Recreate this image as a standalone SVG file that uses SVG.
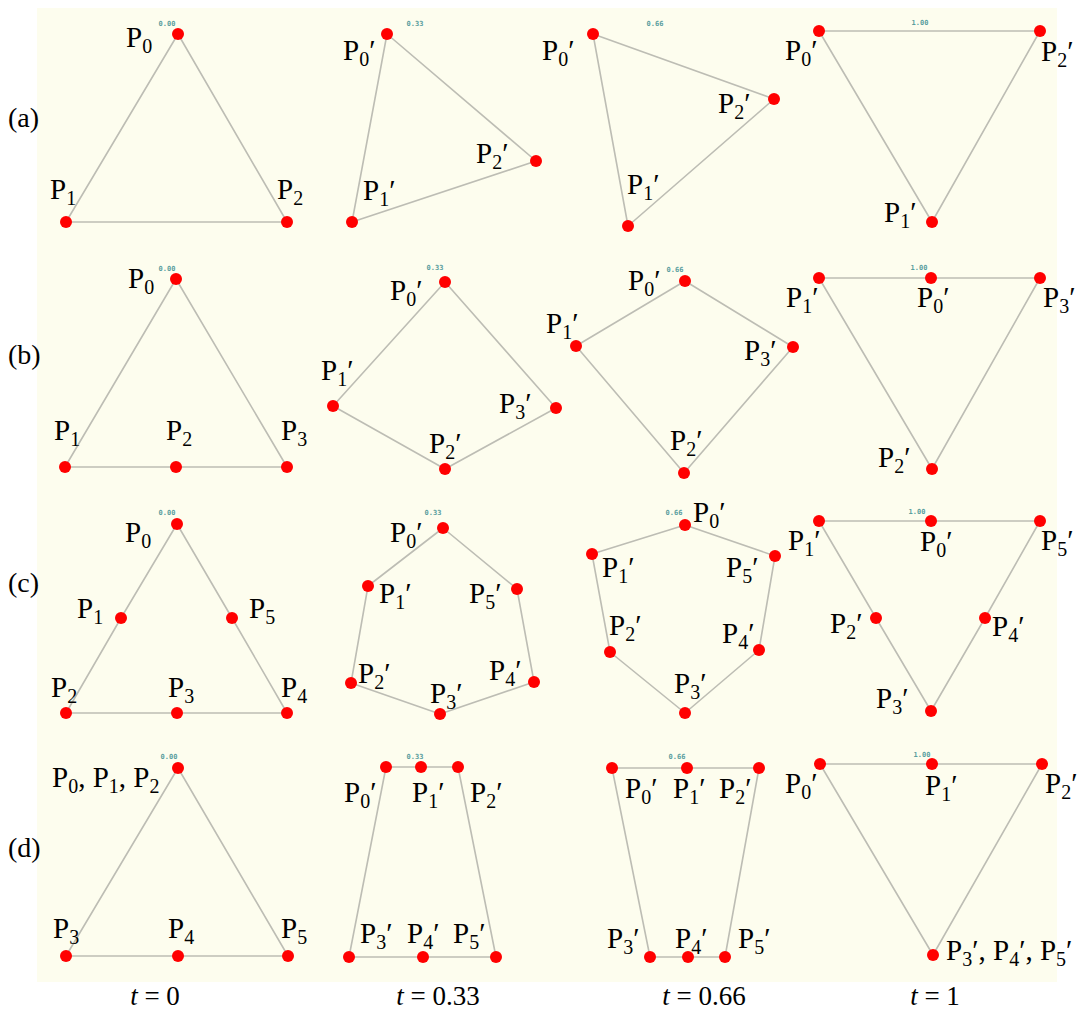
<svg xmlns="http://www.w3.org/2000/svg" width="1082" height="1012" viewBox="0 0 1082 1012">
<style>
.bg{fill:#FDFDEE}
.e{fill:none;stroke:#BDBDB4;stroke-width:1.6;stroke-linejoin:round}
.d{fill:#FF0000}
.p{font-family:'Liberation Serif','Times New Roman',serif;font-size:29px;fill:#000}
.s{font-size:20px}
.t{font-family:'DejaVu Sans Mono',monospace;font-size:7px;font-weight:bold;fill:#5A9E9E;text-anchor:middle}
.r{font-family:'Liberation Serif','Times New Roman',serif;font-size:28px;fill:#000}
.ax{font-family:'Liberation Serif','Times New Roman',serif;font-size:27px;fill:#000;text-anchor:middle}
</style>
<rect width="1082" height="1012" fill="#FFFFFF"/>
<rect class="bg" x="37" y="8" width="1020" height="974"/>

<g id="connectors">
<polygon class="e" points="178,34 66,222 287,222"/>
<polygon class="e" points="387,34 352,222 536,161"/>
<polygon class="e" points="593,34 628,226 774,99"/>
<polygon class="e" points="819,31 932,222 1040,31"/>

<polygon class="e" points="176,279 65,467 176,467 287,467"/>
<polygon class="e" points="445,282 333,406 445,469 556,408"/>
<polygon class="e" points="685,281 576,346 684,473 793,347"/>
<polygon class="e" points="931,278 819,278 932,469 1040,278"/>

<polygon class="e" points="177,524 121,618 66,713 177,713 287,713 232,618"/>
<polygon class="e" points="443,528 368,586 351,683 440,714 534,682 517,589"/>
<polygon class="e" points="685,525 592,554 610,652 685,713 759,650 775,556"/>
<polygon class="e" points="931,521 819,521 876,618 931,711 985,618 1040,521"/>

<polygon class="e" points="178,768 66,956 178,956 288,956"/>
<polygon class="e" points="386,767 421,767 458,767 496,957 423,957 349,957"/>
<polygon class="e" points="612,768 687,768 759,768 725,957 688,957 650,957"/>
<polygon class="e" points="820,764 932,764 1042,764 933,955"/>
</g>

<g id="row-labels">
<text class="r" x="8" y="127">(a)</text>
<text class="r" x="8" y="364">(b)</text>
<text class="r" x="8" y="592">(c)</text>
<text class="r" x="8" y="857">(d)</text>
</g>

<g id="time-labels">
<text class="ax" x="155" y="1005"><tspan font-style="italic">t</tspan> = 0</text>
<text class="ax" x="438" y="1005"><tspan font-style="italic">t</tspan> = 0.33</text>
<text class="ax" x="704" y="1005"><tspan font-style="italic">t</tspan> = 0.66</text>
<text class="ax" x="935" y="1005"><tspan font-style="italic">t</tspan> = 1</text>
</g>

<g id="counters">
<text class="t" x="167" y="26">0.00</text>
<text class="t" x="415" y="26">0.33</text>
<text class="t" x="655" y="26">0.66</text>
<text class="t" x="920" y="25">1.00</text>
<text class="t" x="167" y="271">0.00</text>
<text class="t" x="435" y="270">0.33</text>
<text class="t" x="675" y="272">0.66</text>
<text class="t" x="919" y="270">1.00</text>
<text class="t" x="167" y="515">0.00</text>
<text class="t" x="433" y="515">0.33</text>
<text class="t" x="674" y="515">0.66</text>
<text class="t" x="917" y="514">1.00</text>
<text class="t" x="169" y="759">0.00</text>
<text class="t" x="415" y="759">0.33</text>
<text class="t" x="677" y="759">0.66</text>
<text class="t" x="922" y="757">1.00</text>
</g>

<g id="a1-P0"><circle class="d" cx="178" cy="34" r="6"/><text class="p" x="126" y="47">P<tspan class="s" dy="6">0</tspan></text></g>
<g id="a1-P1"><circle class="d" cx="66" cy="222" r="6"/><text class="p" x="50" y="199">P<tspan class="s" dy="6">1</tspan></text></g>
<g id="a1-P2"><circle class="d" cx="287" cy="222" r="6"/><text class="p" x="277" y="199">P<tspan class="s" dy="6">2</tspan></text></g>

<g id="a2-P0"><circle class="d" cx="387" cy="34" r="6"/><text class="p" x="343" y="60">P<tspan class="s" dy="6">0</tspan><tspan dy="-6">′</tspan></text></g>
<g id="a2-P1"><circle class="d" cx="352" cy="222" r="6"/><text class="p" x="363" y="200">P<tspan class="s" dy="6">1</tspan><tspan dy="-6">′</tspan></text></g>
<g id="a2-P2"><circle class="d" cx="536" cy="161" r="6"/><text class="p" x="476" y="163">P<tspan class="s" dy="6">2</tspan><tspan dy="-6">′</tspan></text></g>

<g id="a3-P0"><circle class="d" cx="593" cy="34" r="6"/><text class="p" x="542" y="60">P<tspan class="s" dy="6">0</tspan><tspan dy="-6">′</tspan></text></g>
<g id="a3-P1"><circle class="d" cx="628" cy="226" r="6"/><text class="p" x="627" y="194">P<tspan class="s" dy="6">1</tspan><tspan dy="-6">′</tspan></text></g>
<g id="a3-P2"><circle class="d" cx="774" cy="99" r="6"/><text class="p" x="718" y="113">P<tspan class="s" dy="6">2</tspan><tspan dy="-6">′</tspan></text></g>

<g id="a4-P0"><circle class="d" cx="819" cy="31" r="6"/><text class="p" x="785" y="60">P<tspan class="s" dy="6">0</tspan><tspan dy="-6">′</tspan></text></g>
<g id="a4-P1"><circle class="d" cx="932" cy="222" r="6"/><text class="p" x="884" y="222">P<tspan class="s" dy="6">1</tspan><tspan dy="-6">′</tspan></text></g>
<g id="a4-P2"><circle class="d" cx="1040" cy="31" r="6"/><text class="p" x="1041" y="61">P<tspan class="s" dy="6">2</tspan><tspan dy="-6">′</tspan></text></g>

<g id="b1-P0"><circle class="d" cx="176" cy="279" r="6"/><text class="p" x="128" y="288">P<tspan class="s" dy="6">0</tspan></text></g>
<g id="b1-P1"><circle class="d" cx="65" cy="467" r="6"/><text class="p" x="54" y="440">P<tspan class="s" dy="6">1</tspan></text></g>
<g id="b1-P2"><circle class="d" cx="176" cy="467" r="6"/><text class="p" x="166" y="440">P<tspan class="s" dy="6">2</tspan></text></g>
<g id="b1-P3"><circle class="d" cx="287" cy="467" r="6"/><text class="p" x="281" y="440">P<tspan class="s" dy="6">3</tspan></text></g>

<g id="b2-P0"><circle class="d" cx="445" cy="282" r="6"/><text class="p" x="390" y="300">P<tspan class="s" dy="6">0</tspan><tspan dy="-6">′</tspan></text></g>
<g id="b2-P1"><circle class="d" cx="333" cy="406" r="6"/><text class="p" x="321" y="380">P<tspan class="s" dy="6">1</tspan><tspan dy="-6">′</tspan></text></g>
<g id="b2-P2"><circle class="d" cx="445" cy="469" r="6"/><text class="p" x="429" y="453">P<tspan class="s" dy="6">2</tspan><tspan dy="-6">′</tspan></text></g>
<g id="b2-P3"><circle class="d" cx="556" cy="408" r="6"/><text class="p" x="499" y="413">P<tspan class="s" dy="6">3</tspan><tspan dy="-6">′</tspan></text></g>

<g id="b3-P0"><circle class="d" cx="685" cy="281" r="6"/><text class="p" x="628" y="290">P<tspan class="s" dy="6">0</tspan><tspan dy="-6">′</tspan></text></g>
<g id="b3-P1"><circle class="d" cx="576" cy="346" r="6"/><text class="p" x="546" y="333">P<tspan class="s" dy="6">1</tspan><tspan dy="-6">′</tspan></text></g>
<g id="b3-P2"><circle class="d" cx="684" cy="473" r="6"/><text class="p" x="670" y="450">P<tspan class="s" dy="6">2</tspan><tspan dy="-6">′</tspan></text></g>
<g id="b3-P3"><circle class="d" cx="793" cy="347" r="6"/><text class="p" x="744" y="360">P<tspan class="s" dy="6">3</tspan><tspan dy="-6">′</tspan></text></g>

<g id="b4-P0"><circle class="d" cx="931" cy="278" r="6"/><text class="p" x="917" y="307">P<tspan class="s" dy="6">0</tspan><tspan dy="-6">′</tspan></text></g>
<g id="b4-P1"><circle class="d" cx="819" cy="278" r="6"/><text class="p" x="786" y="307">P<tspan class="s" dy="6">1</tspan><tspan dy="-6">′</tspan></text></g>
<g id="b4-P2"><circle class="d" cx="932" cy="469" r="6"/><text class="p" x="878" y="467">P<tspan class="s" dy="6">2</tspan><tspan dy="-6">′</tspan></text></g>
<g id="b4-P3"><circle class="d" cx="1040" cy="278" r="6"/><text class="p" x="1043" y="307">P<tspan class="s" dy="6">3</tspan><tspan dy="-6">′</tspan></text></g>

<g id="c1-P0"><circle class="d" cx="177" cy="524" r="6"/><text class="p" x="125" y="542">P<tspan class="s" dy="6">0</tspan></text></g>
<g id="c1-P1"><circle class="d" cx="121" cy="618" r="6"/><text class="p" x="77" y="618">P<tspan class="s" dy="6">1</tspan></text></g>
<g id="c1-P2"><circle class="d" cx="66" cy="713" r="6"/><text class="p" x="51" y="697">P<tspan class="s" dy="6">2</tspan></text></g>
<g id="c1-P3"><circle class="d" cx="177" cy="713" r="6"/><text class="p" x="168" y="697">P<tspan class="s" dy="6">3</tspan></text></g>
<g id="c1-P4"><circle class="d" cx="287" cy="713" r="6"/><text class="p" x="281" y="697">P<tspan class="s" dy="6">4</tspan></text></g>
<g id="c1-P5"><circle class="d" cx="232" cy="618" r="6"/><text class="p" x="249" y="618">P<tspan class="s" dy="6">5</tspan></text></g>

<g id="c2-P0"><circle class="d" cx="443" cy="528" r="6"/><text class="p" x="390" y="542">P<tspan class="s" dy="6">0</tspan><tspan dy="-6">′</tspan></text></g>
<g id="c2-P1"><circle class="d" cx="368" cy="586" r="6"/><text class="p" x="379" y="603">P<tspan class="s" dy="6">1</tspan><tspan dy="-6">′</tspan></text></g>
<g id="c2-P2"><circle class="d" cx="351" cy="683" r="6"/><text class="p" x="358" y="683">P<tspan class="s" dy="6">2</tspan><tspan dy="-6">′</tspan></text></g>
<g id="c2-P3"><circle class="d" cx="440" cy="714" r="6"/><text class="p" x="430" y="703">P<tspan class="s" dy="6">3</tspan><tspan dy="-6">′</tspan></text></g>
<g id="c2-P4"><circle class="d" cx="534" cy="682" r="6"/><text class="p" x="489" y="680">P<tspan class="s" dy="6">4</tspan><tspan dy="-6">′</tspan></text></g>
<g id="c2-P5"><circle class="d" cx="517" cy="589" r="6"/><text class="p" x="469" y="603">P<tspan class="s" dy="6">5</tspan><tspan dy="-6">′</tspan></text></g>

<g id="c3-P0"><circle class="d" cx="685" cy="525" r="6"/><text class="p" x="693" y="522">P<tspan class="s" dy="6">0</tspan><tspan dy="-6">′</tspan></text></g>
<g id="c3-P1"><circle class="d" cx="592" cy="554" r="6"/><text class="p" x="602" y="577">P<tspan class="s" dy="6">1</tspan><tspan dy="-6">′</tspan></text></g>
<g id="c3-P2"><circle class="d" cx="610" cy="652" r="6"/><text class="p" x="609" y="635">P<tspan class="s" dy="6">2</tspan><tspan dy="-6">′</tspan></text></g>
<g id="c3-P3"><circle class="d" cx="685" cy="713" r="6"/><text class="p" x="674" y="693">P<tspan class="s" dy="6">3</tspan><tspan dy="-6">′</tspan></text></g>
<g id="c3-P4"><circle class="d" cx="759" cy="650" r="6"/><text class="p" x="722" y="643">P<tspan class="s" dy="6">4</tspan><tspan dy="-6">′</tspan></text></g>
<g id="c3-P5"><circle class="d" cx="775" cy="556" r="6"/><text class="p" x="726" y="577">P<tspan class="s" dy="6">5</tspan><tspan dy="-6">′</tspan></text></g>

<g id="c4-P0"><circle class="d" cx="931" cy="521" r="6"/><text class="p" x="920" y="551">P<tspan class="s" dy="6">0</tspan><tspan dy="-6">′</tspan></text></g>
<g id="c4-P1"><circle class="d" cx="819" cy="521" r="6"/><text class="p" x="788" y="550">P<tspan class="s" dy="6">1</tspan><tspan dy="-6">′</tspan></text></g>
<g id="c4-P2"><circle class="d" cx="876" cy="618" r="6"/><text class="p" x="830" y="633">P<tspan class="s" dy="6">2</tspan><tspan dy="-6">′</tspan></text></g>
<g id="c4-P3"><circle class="d" cx="931" cy="711" r="6"/><text class="p" x="876" y="708">P<tspan class="s" dy="6">3</tspan><tspan dy="-6">′</tspan></text></g>
<g id="c4-P4"><circle class="d" cx="985" cy="618" r="6"/><text class="p" x="992" y="636">P<tspan class="s" dy="6">4</tspan><tspan dy="-6">′</tspan></text></g>
<g id="c4-P5"><circle class="d" cx="1040" cy="521" r="6"/><text class="p" x="1041" y="550">P<tspan class="s" dy="6">5</tspan><tspan dy="-6">′</tspan></text></g>

<g id="d1-P012"><circle class="d" cx="178" cy="768" r="6"/><text class="p" x="52" y="787">P<tspan class="s" dy="6">0</tspan><tspan dy="-6">, P</tspan><tspan class="s" dy="6">1</tspan><tspan dy="-6">, P</tspan><tspan class="s" dy="6">2</tspan></text></g>
<g id="d1-P3"><circle class="d" cx="66" cy="956" r="6"/><text class="p" x="53" y="938">P<tspan class="s" dy="6">3</tspan></text></g>
<g id="d1-P4"><circle class="d" cx="178" cy="956" r="6"/><text class="p" x="168" y="938">P<tspan class="s" dy="6">4</tspan></text></g>
<g id="d1-P5"><circle class="d" cx="288" cy="956" r="6"/><text class="p" x="281" y="938">P<tspan class="s" dy="6">5</tspan></text></g>

<g id="d2-P0"><circle class="d" cx="386" cy="767" r="6"/><text class="p" x="344" y="802">P<tspan class="s" dy="6">0</tspan><tspan dy="-6">′</tspan></text></g>
<g id="d2-P1"><circle class="d" cx="421" cy="767" r="6"/><text class="p" x="412" y="802">P<tspan class="s" dy="6">1</tspan><tspan dy="-6">′</tspan></text></g>
<g id="d2-P2"><circle class="d" cx="458" cy="767" r="6"/><text class="p" x="470" y="802">P<tspan class="s" dy="6">2</tspan><tspan dy="-6">′</tspan></text></g>
<g id="d2-P3"><circle class="d" cx="349" cy="957" r="6"/><text class="p" x="360" y="943">P<tspan class="s" dy="6">3</tspan><tspan dy="-6">′</tspan></text></g>
<g id="d2-P4"><circle class="d" cx="423" cy="957" r="6"/><text class="p" x="407" y="943">P<tspan class="s" dy="6">4</tspan><tspan dy="-6">′</tspan></text></g>
<g id="d2-P5"><circle class="d" cx="496" cy="957" r="6"/><text class="p" x="453" y="943">P<tspan class="s" dy="6">5</tspan><tspan dy="-6">′</tspan></text></g>

<g id="d3-P0"><circle class="d" cx="612" cy="768" r="6"/><text class="p" x="625" y="798">P<tspan class="s" dy="6">0</tspan><tspan dy="-6">′</tspan></text></g>
<g id="d3-P1"><circle class="d" cx="687" cy="768" r="6"/><text class="p" x="673" y="798">P<tspan class="s" dy="6">1</tspan><tspan dy="-6">′</tspan></text></g>
<g id="d3-P2"><circle class="d" cx="759" cy="768" r="6"/><text class="p" x="719" y="798">P<tspan class="s" dy="6">2</tspan><tspan dy="-6">′</tspan></text></g>
<g id="d3-P3"><circle class="d" cx="650" cy="957" r="6"/><text class="p" x="607" y="948">P<tspan class="s" dy="6">3</tspan><tspan dy="-6">′</tspan></text></g>
<g id="d3-P4"><circle class="d" cx="688" cy="957" r="6"/><text class="p" x="675" y="948">P<tspan class="s" dy="6">4</tspan><tspan dy="-6">′</tspan></text></g>
<g id="d3-P5"><circle class="d" cx="725" cy="957" r="6"/><text class="p" x="738" y="948">P<tspan class="s" dy="6">5</tspan><tspan dy="-6">′</tspan></text></g>

<g id="d4-P0"><circle class="d" cx="820" cy="764" r="6"/><text class="p" x="785" y="793">P<tspan class="s" dy="6">0</tspan><tspan dy="-6">′</tspan></text></g>
<g id="d4-P1"><circle class="d" cx="932" cy="764" r="6"/><text class="p" x="925" y="795">P<tspan class="s" dy="6">1</tspan><tspan dy="-6">′</tspan></text></g>
<g id="d4-P2"><circle class="d" cx="1042" cy="764" r="6"/><text class="p" x="1045" y="793">P<tspan class="s" dy="6">2</tspan><tspan dy="-6">′</tspan></text></g>
<g id="d4-P345"><circle class="d" cx="933" cy="955" r="6"/><text class="p" x="946" y="960">P<tspan class="s" dy="6">3</tspan><tspan dy="-6">′, P</tspan><tspan class="s" dy="6">4</tspan><tspan dy="-6">′, P</tspan><tspan class="s" dy="6">5</tspan><tspan dy="-6">′</tspan></text></g>
</svg>
